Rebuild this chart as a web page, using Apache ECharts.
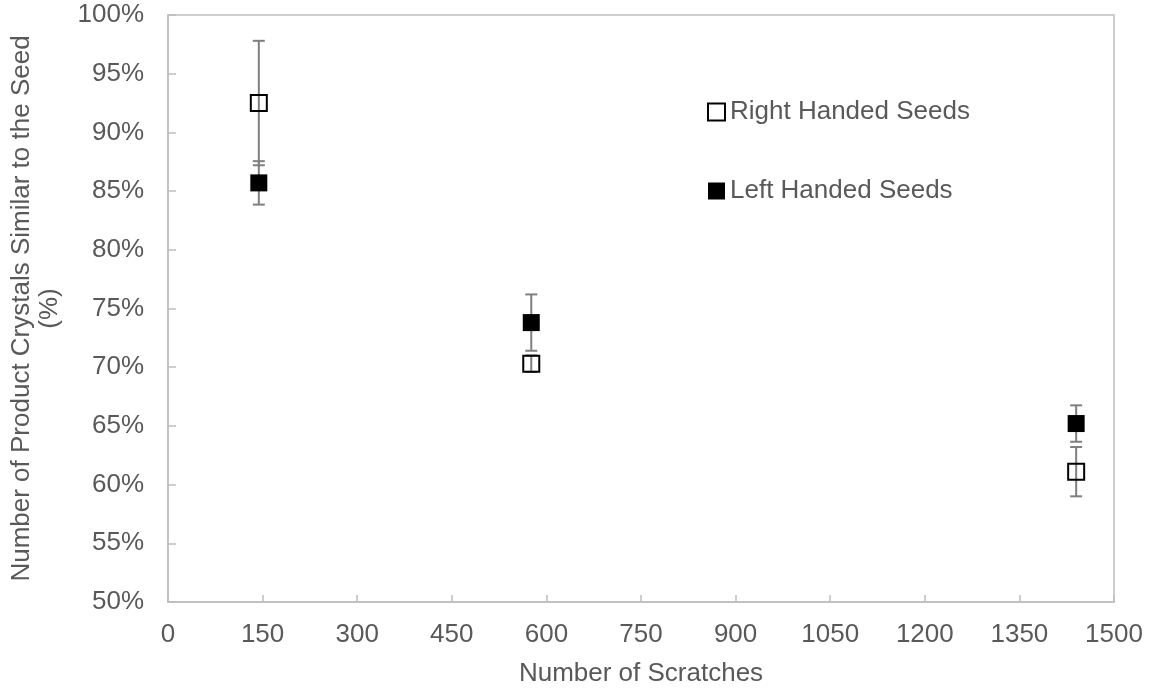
<!DOCTYPE html>
<html>
<head>
<meta charset="utf-8">
<script src="https://cdn.jsdelivr.net/npm/echarts@6/dist/echarts.min.js"></script>
<style>
  html, body { margin: 0; padding: 0; background: #fff; }
  #chart { width: 1153px; height: 690px; }
</style>
</head>
<body>
<div id="chart"></div>
<script>
// data
var scratches = [144, 576, 1440];
var rightValues = [92.5, 70.3, 61.1];
var rightErrors = [5.3, 0.7, 2.1];
var leftValues = [85.7, 73.8, 65.2];
var leftErrors = [1.85, 2.4, 1.55];

var textColor = '#595959';
var lineColor = '#bfbfbf';
var fontName = 'Liberation Sans, Arial, sans-serif';

function points(values) {
    return scratches.map(function (x, i) { return [x, values[i]]; });
}

function errorRows(values, errors) {
    return scratches.map(function (x, i) {
        return [x, values[i] - errors[i], values[i] + errors[i]];
    });
}

// 误差线
function renderError(params, api) {
    var low = api.coord([api.value(0), api.value(1)]);
    var high = api.coord([api.value(0), api.value(2)]);
    var half = 6;
    var style = { stroke: '#7f7f7f', lineWidth: 2 };
    return {
        type: 'group',
        children: [
            { type: 'line', shape: { x1: low[0], y1: low[1], x2: high[0], y2: high[1] }, style: style },
            { type: 'line', shape: { x1: low[0] - half, y1: low[1], x2: low[0] + half, y2: low[1] }, style: style },
            { type: 'line', shape: { x1: high[0] - half, y1: high[1], x2: high[0] + half, y2: high[1] }, style: style }
        ]
    };
}

var myChart = echarts.init(document.getElementById('chart'));

var option = {
    animation: false,
    textStyle: { fontFamily: fontName },
    grid: {
        left: 168,
        right: 39,
        top: 15,
        bottom: 88,
        outerBoundsMode: 'none',
        containLabel: false,
        show: true,
        borderColor: lineColor,
        borderWidth: 1.5
    },
    legend: {
        orient: 'vertical',
        left: 707,
        top: 99,
        padding: 0,
        itemWidth: 17,
        itemHeight: 17,
        itemGap: 53,
        textStyle: { color: textColor, fontSize: 26, fontFamily: fontName, lineHeight: 26 },
        data: ['Right Handed Seeds', 'Left Handed Seeds']
    },
    xAxis: {
        type: 'value',
        min: 0,
        max: 1500,
        interval: 150,
        name: 'Number of Scratches',
        nameLocation: 'middle',
        nameGap: 59,
        nameTextStyle: { color: textColor, fontSize: 26, fontFamily: fontName },
        axisLine: { show: true, lineStyle: { color: lineColor, width: 1.5 } },
        axisTick: { show: true, inside: true, length: 7, lineStyle: { color: lineColor, width: 1.5 } },
        axisLabel: {
            color: textColor, fontSize: 26, margin: 20, fontFamily: fontName,
            formatter: function (v) { return String(v); }
        },
        splitLine: { show: false }
    },
    yAxis: {
        type: 'value',
        min: 50,
        max: 100,
        interval: 5,
        name: 'Number of Product Crystals Similar to the Seed\n(%)',
        nameLocation: 'middle',
        nameRotate: 90,
        nameGap: 104,
        nameTextStyle: { color: textColor, fontSize: 26, fontFamily: fontName, lineHeight: 28 },
        axisLine: { show: true, lineStyle: { color: lineColor, width: 1.5 } },
        axisTick: { show: true, inside: true, length: 8, lineStyle: { color: lineColor, width: 1.5 } },
        axisLabel: { color: textColor, fontSize: 26, margin: 24, fontFamily: fontName, formatter: '{value}%' },
        splitLine: { show: false }
    },
    series: [
        {
            type: 'custom',
            name: 'rightError',
            renderItem: renderError,
            data: errorRows(rightValues, rightErrors),
            z: 1,
            silent: true
        },
        {
            type: 'custom',
            name: 'leftError',
            renderItem: renderError,
            data: errorRows(leftValues, leftErrors),
            z: 1,
            silent: true
        },
        {
            type: 'scatter',
            name: 'Right Handed Seeds',
            symbol: 'rect',
            symbolSize: 16,
            itemStyle: { color: 'rgba(255,255,255,0)', borderColor: '#000', borderWidth: 2, opacity: 1 },
            data: points(rightValues),
            z: 3
        },
        {
            type: 'scatter',
            name: 'Left Handed Seeds',
            symbol: 'rect',
            symbolSize: 17,
            itemStyle: { color: '#000', opacity: 1 },
            data: points(leftValues),
            z: 4
        }
    ]
};

myChart.setOption(option);
window.addEventListener("resize", function () {
    myChart.resize();
});
</script>
</body>
</html>
